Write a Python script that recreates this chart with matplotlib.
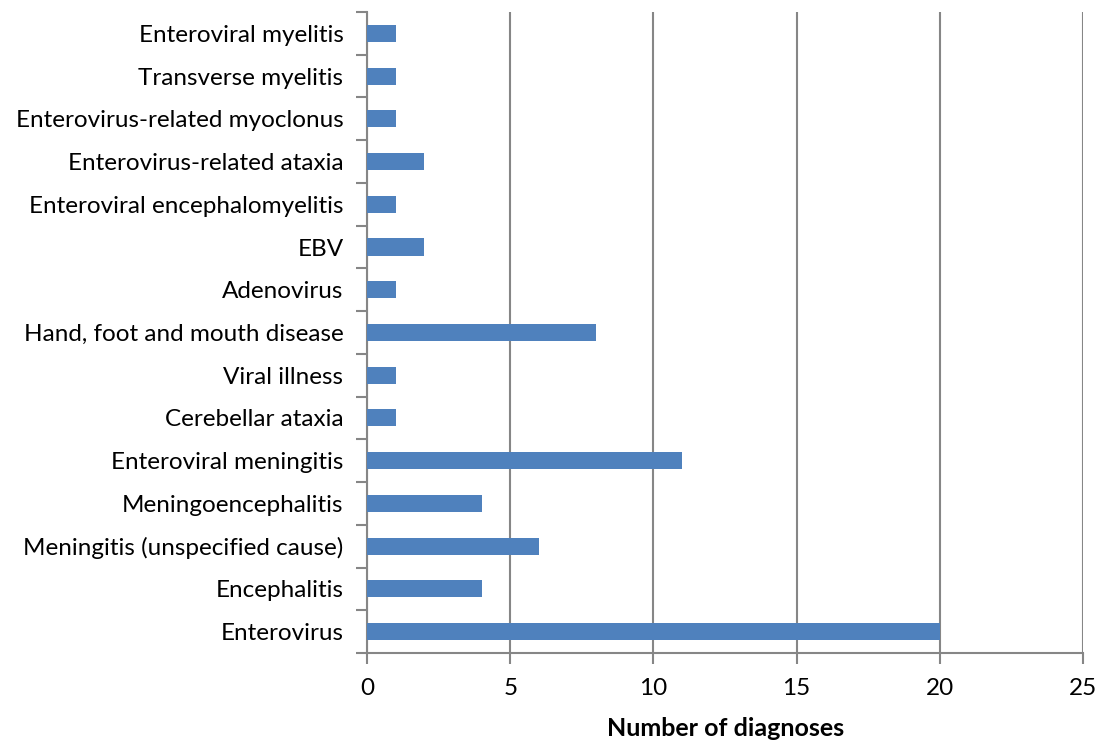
import matplotlib
matplotlib.use("Agg")
import matplotlib.pyplot as plt
import numpy as np

plt.rcParams['font.family'] = ['Lato', 'DejaVu Sans']

# diagnoses, listed bottom to top
categories = ['Enterovirus', 'Encephalitis', 'Meningitis (unspecified cause)',
              'Meningoencephalitis', 'Enteroviral meningitis', 'Cerebellar ataxia',
              'Viral illness', 'Hand, foot and mouth disease', 'Adenovirus', 'EBV',
              'Enteroviral encephalomyelitis', 'Enterovirus-related ataxia',
              'Enterovirus-related myoclonus', 'Transverse myelitis',
              'Enteroviral myelitis']
counts = [20, 4, 6, 4, 11, 1, 1, 8, 1, 2, 1, 2, 1, 1, 1]

fig = plt.figure(figsize=(10.99, 7.40), dpi=100)
ax = fig.add_axes([0.334, 0.1176, 0.6514, 0.8662])

y = np.arange(len(categories))
ax.barh(y, counts, height=0.4, color='#4f81bd', zorder=3)

ax.set_xlim(0, 25)
ax.set_ylim(-0.5, len(categories) - 0.5)
ax.set_xticks(range(0, 26, 5))
ax.set_yticks(y)
ax.set_yticklabels(categories)
ax.set_yticks(np.arange(-0.5, len(categories), 1), minor=True)
ax.tick_params(axis='y', which='major', length=0, pad=17, labelsize=17.5)
ax.tick_params(axis='y', which='minor', length=8, width=1.5, color='#868686')
ax.tick_params(axis='x', length=8, width=1.5, color='#868686', labelsize=17.5, pad=10)

ax.grid(axis='x', color='#868686', linewidth=1.5, zorder=0)
for s in ['top', 'right']:
    ax.spines[s].set_visible(False)
for s in ['left', 'bottom']:
    ax.spines[s].set_color('#868686')
    ax.spines[s].set_linewidth(1.5)

fig.text(0.66, 1 - 728 / 740, 'Number of diagnoses', fontsize=18, fontweight='bold',
         ha='center', va='center')

fig.savefig('out.png', dpi=100)
